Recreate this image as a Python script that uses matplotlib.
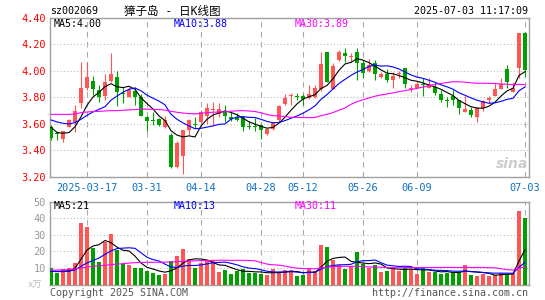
import matplotlib
matplotlib.use("Agg")
import matplotlib.pyplot as plt
import pandas as pd

# trading days shown (2025-03-07 .. 2025-07-03, mainland holidays removed)
holidays = ["2025-04-04", "2025-05-01", "2025-05-02", "2025-05-05", "2025-06-02"]
days = [d for d in pd.bdate_range("2025-03-07", "2025-07-03").strftime("%Y-%m-%d") if d not in holidays]

tick_days = ["2025-03-17", "2025-03-31", "2025-04-14", "2025-04-28",
             "2025-05-12", "2025-05-26", "2025-06-09", "2025-07-03"]
tick_labels = ["2025-03-17", "03-31", "04-14", "04-28", "05-12", "05-26", "06-09", "07-03"]

opens = [3.58, 3.535, 3.49, 3.58, 3.615, 3.76, 3.87, 3.92, 3.855, 3.81,
         3.92, 3.955, 3.833, 3.805, 3.85, 3.805, 3.65, 3.63, 3.64, 3.58,
         3.515, 3.277, 3.36, 3.553, 3.595, 3.617, 3.662, 3.708, 3.672, 3.692,
         3.654, 3.654, 3.654, 3.578, 3.578, 3.591, 3.523, 3.56, 3.629, 3.747,
         3.81, 3.81, 3.812, 3.797, 3.805, 3.863, 4.14, 3.863, 4.082, 4.132,
         4.105, 4.145, 4.057, 4.0, 4.057, 3.953, 3.98, 3.93, 3.978, 4.024,
         3.865, 3.873, 3.90, 3.873, 3.88, 3.825, 3.778, 3.812, 3.78, 3.687,
         3.705, 3.654, 3.722, 3.78, 3.812, 3.863, 4.014, 3.843, 4.024, 4.283]
highs = [3.59, 3.55, 3.55, 3.635, 3.74, 4.07, 4.07, 3.965, 3.893, 3.98,
         4.137, 4.0, 3.88, 3.88, 3.88, 3.823, 3.66, 3.687, 3.647, 3.66,
         3.53, 3.47, 3.553, 3.64, 3.655, 3.705, 3.755, 3.762, 3.755, 3.742,
         3.687, 3.68, 3.66, 3.62, 3.645, 3.596, 3.57, 3.616, 3.742, 3.825,
         3.83, 3.83, 3.825, 3.893, 3.89, 4.145, 4.145, 4.057, 4.157, 4.175,
         4.132, 4.175, 4.08, 4.09, 4.08, 3.99, 4.014, 3.99, 4.0, 4.024,
         3.893, 3.92, 3.945, 3.948, 3.918, 3.855, 3.805, 3.855, 3.78, 3.812,
         3.73, 3.73, 3.78, 3.812, 3.906, 3.943, 4.044, 3.918, 4.283, 4.29]
lows = [3.48, 3.48, 3.465, 3.575, 3.54, 3.717, 3.855, 3.82, 3.767, 3.78,
        3.913, 3.737, 3.755, 3.80, 3.74, 3.66, 3.546, 3.59, 3.586, 3.57,
        3.27, 3.27, 3.226, 3.516, 3.566, 3.604, 3.60, 3.59, 3.654, 3.616,
        3.62, 3.62, 3.546, 3.56, 3.546, 3.49, 3.52, 3.555, 3.616, 3.742,
        3.74, 3.78, 3.742, 3.79, 3.797, 3.848, 3.913, 3.863, 4.075, 4.069,
        4.065, 3.93, 3.943, 3.99, 3.93, 3.943, 3.913, 3.868, 3.943, 3.868,
        3.843, 3.868, 3.81, 3.868, 3.818, 3.767, 3.73, 3.742, 3.672, 3.687,
        3.654, 3.616, 3.697, 3.755, 3.812, 3.863, 3.868, 3.84, 3.943, 3.956]
closes = [3.496, 3.525, 3.545, 3.63, 3.70, 3.87, 3.955, 3.86, 3.805, 3.913,
          3.98, 3.843, 3.827, 3.855, 3.80, 3.66, 3.625, 3.625, 3.59, 3.63,
          3.277, 3.46, 3.553, 3.63, 3.59, 3.687, 3.717, 3.712, 3.71, 3.662,
          3.634, 3.629, 3.58, 3.574, 3.574, 3.553, 3.56, 3.609, 3.735, 3.797,
          3.815, 3.80, 3.787, 3.825, 3.873, 4.049, 3.918, 4.039, 4.14, 4.115,
          4.107, 4.057, 3.986, 4.044, 3.98, 3.974, 3.93, 3.963, 3.98, 3.90,
          3.87, 3.898, 3.895, 3.898, 3.835, 3.78, 3.775, 3.78, 3.717, 3.712,
          3.667, 3.722, 3.772, 3.797, 3.863, 3.898, 3.913, 3.868, 4.283, 4.006]

ma5 = [3.575, 3.535, 3.53, 3.535, 3.579, 3.654, 3.740, 3.803, 3.838, 3.881,
       3.903, 3.880, 3.874, 3.884, 3.861, 3.797, 3.753, 3.713, 3.660, 3.626,
       3.549, 3.516, 3.502, 3.510, 3.502, 3.584, 3.635, 3.667, 3.683, 3.698,
       3.687, 3.669, 3.643, 3.616, 3.598, 3.582, 3.568, 3.574, 3.606, 3.651,
       3.703, 3.751, 3.787, 3.805, 3.820, 3.867, 3.890, 3.941, 4.004, 4.052,
       4.064, 4.092, 4.081, 4.062, 4.035, 4.008, 3.983, 3.978, 3.965, 3.949,
       3.929, 3.922, 3.909, 3.892, 3.879, 3.861, 3.837, 3.814, 3.777, 3.753,
       3.730, 3.720, 3.718, 3.734, 3.764, 3.810, 3.849, 3.868, 3.965, 3.994]
ma10 = [3.63, 3.615, 3.605, 3.60, 3.61, 3.635, 3.665, 3.69, 3.71, 3.730,
        3.779, 3.810, 3.839, 3.861, 3.871, 3.850, 3.817, 3.794, 3.772, 3.744,
        3.673, 3.635, 3.608, 3.585, 3.564, 3.567, 3.576, 3.585, 3.597, 3.600,
        3.636, 3.652, 3.655, 3.650, 3.648, 3.635, 3.619, 3.609, 3.611, 3.625,
        3.643, 3.660, 3.681, 3.706, 3.736, 3.785, 3.821, 3.864, 3.905, 3.936,
        3.966, 3.991, 4.011, 4.033, 4.044, 4.036, 4.038, 4.030, 4.014, 3.992,
        3.969, 3.953, 3.944, 3.929, 3.914, 3.895, 3.880, 3.862, 3.835, 3.816,
        3.796, 3.779, 3.766, 3.756, 3.759, 3.770, 3.785, 3.793, 3.850, 3.879]
ma30 = [3.672, 3.672, 3.672, 3.672, 3.675, 3.685, 3.69, 3.693, 3.695, 3.698,
        3.70, 3.70, 3.703, 3.706, 3.708, 3.712, 3.712, 3.710, 3.708, 3.705,
        3.695, 3.688, 3.682, 3.678, 3.676, 3.68, 3.685, 3.688, 3.69, 3.691,
        3.696, 3.699, 3.700, 3.698, 3.694, 3.684, 3.671, 3.662, 3.660, 3.656,
        3.650, 3.649, 3.648, 3.647, 3.649, 3.662, 3.672, 3.686, 3.704, 3.720,
        3.748, 3.768, 3.782, 3.796, 3.809, 3.819, 3.826, 3.834, 3.843, 3.851,
        3.859, 3.868, 3.878, 3.889, 3.898, 3.905, 3.912, 3.918, 3.918, 3.915,
        3.910, 3.907, 3.907, 3.906, 3.905, 3.900, 3.900, 3.895, 3.899, 3.896]

# volume, 万手
volume = [10.0, 6.8, 9.6, 9.7, 13.0, 37.3, 34.5, 21.8, 13.6, 25.7,
          30.7, 21.0, 12.4, 11.6, 10.0, 9.8, 8.2, 7.2, 5.6, 6.4,
          14.0, 17.2, 21.4, 15.2, 9.8, 13.2, 14.5, 14.0, 7.5, 8.6,
          6.6, 8.0, 9.4, 7.2, 7.0, 6.4, 5.5, 9.5, 7.5, 8.6,
          8.6, 5.1, 5.7, 9.2, 8.0, 24.1, 22.9, 14.6, 12.0, 9.4,
          11.0, 19.9, 12.6, 10.0, 11.6, 7.6, 8.2, 10.6, 8.2, 10.6,
          9.2, 6.2, 10.2, 7.6, 7.6, 6.6, 7.0, 7.6, 7.6, 11.6,
          5.5, 5.0, 6.5, 5.0, 6.0, 7.0, 6.6, 7.0, 44.3, 40.0]
vma5 = [8.0, 7.9, 8.0, 8.3, 9.82, 15.28, 20.82, 23.26, 24.04, 26.58,
        25.26, 22.56, 20.68, 20.28, 17.14, 12.96, 10.4, 9.36, 8.16, 7.44,
        8.28, 10.08, 12.92, 14.84, 15.52, 15.36, 14.82, 13.34, 11.8, 11.56,
        10.24, 8.94, 8.02, 7.96, 7.64, 7.6, 7.1, 7.12, 7.18, 7.5,
        7.94, 7.86, 7.1, 7.44, 7.32, 10.42, 13.98, 15.76, 16.32, 16.6,
        13.98, 13.38, 12.98, 12.58, 13.02, 12.34, 10.0, 9.6, 9.24, 9.04,
        9.36, 8.96, 8.88, 8.76, 8.16, 7.64, 7.8, 7.28, 7.28, 8.08,
        7.86, 7.46, 7.24, 6.72, 5.6, 5.9, 6.22, 6.32, 14.18, 20.98]
vma10 = [8.0, 7.8, 7.8, 8.0, 8.8, 11.0, 13.0, 14.5, 16.0, 18.2,
         20.27, 21.69, 21.97, 22.16, 21.86, 19.11, 16.48, 15.02, 14.22, 12.29,
         10.62, 10.24, 11.14, 11.5, 11.48, 11.82, 12.45, 13.13, 13.32, 13.54,
         12.8, 11.88, 10.68, 9.88, 9.6, 8.92, 8.02, 7.57, 7.57, 7.57,
         7.77, 7.48, 7.11, 7.31, 7.41, 9.18, 10.92, 11.43, 11.88, 11.96,
         12.2, 13.68, 14.37, 14.45, 14.81, 13.16, 11.69, 11.29, 10.91, 11.03,
         10.85, 9.48, 9.24, 9.0, 8.6, 8.5, 8.38, 8.08, 8.02, 8.12,
         7.75, 7.63, 7.26, 7.0, 6.84, 6.88, 6.84, 6.78, 10.45, 13.29]
vma30 = [8.6, 8.7, 8.8, 9.0, 9.4, 10.0, 10.5, 11.0, 11.3, 11.6,
         12.0, 12.3, 12.6, 12.9, 13.2, 13.3, 13.4, 13.4, 13.4, 13.5,
         13.6, 13.8, 14.0, 14.2, 14.3, 14.4, 14.5, 14.6, 14.6, 14.68,
         14.56, 14.6, 14.6, 14.51, 14.31, 13.28, 12.32, 11.91, 11.70, 11.13,
         10.40, 9.87, 9.64, 9.56, 9.50, 9.97, 10.46, 10.71, 10.92, 11.02,
         10.92, 11.01, 10.72, 10.55, 10.61, 10.42, 10.21, 10.10, 10.12, 10.19,
         10.27, 10.21, 10.24, 10.25, 10.27, 10.28, 10.33, 10.27, 10.27, 10.37,
         10.27, 10.26, 10.29, 10.15, 10.08, 9.51, 8.97, 8.72, 9.79, 10.81]

RED = "#ff5555"
GREEN = "#00a000"
FRAME = "#a0a0a0"
MONO = ["DejaVu Sans Mono", "Noto Sans CJK SC"]
plt.rcParams["font.family"] = MONO

W, H = 545, 300
fig = plt.figure(figsize=(W / 100, H / 100), dpi=100)
fig.patch.set_facecolor("white")

def px_box(x0, y0, x1, y1):
    return [x0 / W, 1 - y1 / H, (x1 - x0) / W, (y1 - y0) / H]

ax = fig.add_axes(px_box(50, 17.8, 529, 177))
axv = fig.add_axes(px_box(50, 201.7, 529, 284.5))

x = list(range(len(days)))
colors = [RED if c >= o else GREEN for o, c in zip(opens, closes)]
ticks = [days.index(d) for d in tick_days]

# candles
ax.vlines(x, lows, highs, colors=colors, lw=0.8, zorder=3)
bottoms = [min(o, c) for o, c in zip(opens, closes)]
heights = [max(abs(c - o), 0.007) for o, c in zip(opens, closes)]
ax.bar(x, heights, bottom=bottoms, width=0.72, color=colors, zorder=4)
ax.plot(x, ma5, color="black", lw=0.8, zorder=5)
ax.plot(x, ma10, color="#0000ff", lw=0.8, zorder=5)
ax.plot(x, ma30, color="#ff00ff", lw=0.8, zorder=5)

# volume
axv.bar(x, volume, width=0.8, color=colors, zorder=3)
axv.plot(x, vma5, color="black", lw=0.8, zorder=5)
axv.plot(x, vma10, color="#0000ff", lw=0.8, zorder=5)
axv.plot(x, vma30, color="#ff00ff", lw=0.8, zorder=5)

for a in (ax, axv):
    a.set_xlim(-1 / 6, 79.67)
    a.set_xticks(ticks)
    a.grid(axis="x", color="#aaaaaa", lw=0.8, linestyle=(0, (5, 4)), zorder=1)
    a.grid(axis="y", color="#bbbbbb", lw=0.8, linestyle=(0, (1, 2)), zorder=1)
    a.set_axisbelow(True)
    for s in a.spines.values():
        s.set_color(FRAME)
        s.set_linewidth(1.0)
    a.tick_params(length=0)

ax.set_ylim(3.20, 4.40)
ax.set_yticks([3.20, 3.40, 3.60, 3.80, 4.00, 4.20, 4.40])
ax.set_yticklabels(["%.2f" % v for v in ax.get_yticks()])
ax.tick_params(axis="y", labelcolor="red", labelsize=7.4, pad=3)
ax.set_xticklabels(tick_labels)
ax.tick_params(axis="x", labelcolor="#1070c0", labelsize=7.4, pad=4)

axv.set_ylim(0, 50)
axv.set_yticks([10, 20, 30, 40, 50])
axv.set_yticklabels(["10", "20", "30", "40", "50"])
axv.tick_params(axis="y", labelcolor="#999999", labelsize=7.4, pad=3)
axv.set_xticklabels([])

# header texts
fig.text(50 / W, 1 - 11 / H, "sz002069", fontsize=7.2, color="black", va="center")
fig.text(172 / W, 1 - 11 / H, "獐子岛 - 日K线图", fontsize=8.3,
         family=MONO, color="black", va="center", ha="center")
fig.text(528 / W, 1 - 11.5 / H, "2025-07-03 11:17:09", fontsize=7.2, color="black",
         va="center", ha="right")

# MA legends
for labels, y in ((("MA5:4.00", "MA10:3.88", "MA30:3.89"), 24),
                  (("MA5:21", "MA10:13", "MA30:11"), 206)):
    for xp, lab, col in zip((54, 174, 295), labels, ("black", "#0000ff", "#ff00ff")):
        fig.text(xp / W, 1 - y / H, lab, fontsize=7.2, color=col, va="center")

fig.text(28 / W, 1 - 285.5 / H, "x万", fontsize=6.5, color="#bbbbbb", va="center")
fig.text(50 / W, 1 - 293 / H, "Copyright 2025 SINA.COM", fontsize=7.2, color="#555555", va="center")
fig.text(528 / W, 1 - 293 / H, "http://finance.sina.com.cn", fontsize=7.2, color="#555555",
         va="center", ha="right")

# sina watermark
fig.text(512 / W, 1 - 164 / H, "sina", fontsize=10, style="italic", weight="bold",
         color="#cccccc", va="center", ha="center", family="DejaVu Sans")

fig.savefig("out.png", dpi=100, facecolor="white")
